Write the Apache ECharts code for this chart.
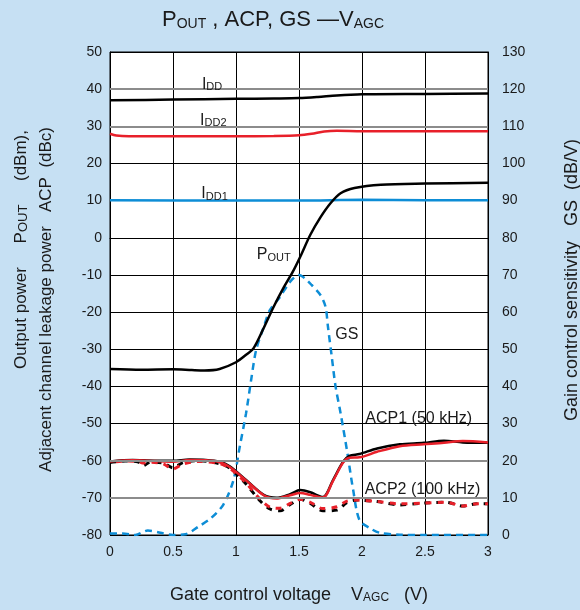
<!DOCTYPE html>
<html><head><meta charset="utf-8">
<script src="https://cdn.jsdelivr.net/npm/echarts@6/dist/echarts.min.js"></script>
<style>html,body{margin:0;padding:0;background:#c6e0f3;}#c{width:580px;height:610px;}</style>
</head><body><div id="c"></div>
<script>
// ---- axis ticks ----
const xTicks = [0, 0.5, 1, 1.5, 2, 2.5, 3];
const leftTicks = [-80, -70, -60, -50, -40, -30, -20, -10, 0, 10, 20, 30, 40, 50];
const rightTicks = [0, 10, 20, 30, 40, 50, 60, 70, 80, 90, 100, 110, 120, 130];
const grayGridLines = [40, 30, -60, -70];

// ---- IDD (left axis) ----
const iddX = [0, 0.5, 1.0, 1.3, 1.5, 1.65, 1.8, 2.0, 2.5, 3.0];
const iddY = [37.0, 37.2, 37.4, 37.5, 37.6, 37.9, 38.3, 38.6, 38.7, 38.8];
const idd2X = [0, 0.05, 0.15, 0.5, 1.0, 1.3, 1.5, 1.6, 1.7, 1.8, 2.0, 2.5, 3.0];
const idd2Y = [28.0, 27.5, 27.3, 27.3, 27.3, 27.4, 27.6, 28.0, 28.6, 28.8, 28.7, 28.7, 28.7];
const idd1X = [0, 1.0, 1.5, 2.0, 2.5, 3.0];
const idd1Y = [10.1, 10.0, 10.0, 10.2, 10.1, 10.1];

// ---- POUT (left axis) ----
const poutX = [0, 0.25, 0.5, 0.65, 0.75, 0.87, 1.0, 1.08, 1.14, 1.22, 1.3, 1.38, 1.45, 1.51, 1.59, 1.67, 1.75, 1.83, 1.94, 2.15, 2.5, 3.0];
const poutY = [-35.3, -35.5, -35.4, -35.6, -35.7, -35.3, -33.5, -31.5, -29.7, -24.3, -18.5, -13.3, -9.2, -5.1, 0.8, 5.5, 9.3, 12.0, 13.4, 14.3, 14.6, 14.8];

// ---- GS (right axis) ----
const gsX = [0, 0.1, 0.2, 0.3, 0.4, 0.5, 0.6, 0.7, 0.8, 0.9, 0.98, 1.03, 1.08, 1.12, 1.16, 1.22, 1.27, 1.35, 1.43, 1.5, 1.55, 1.6, 1.67, 1.71, 1.73, 1.76, 1.79, 1.83, 1.88, 1.93, 1.98, 2.06, 2.14, 2.3, 2.5, 3.0];
const gsY = [0.4, 0.4, 0, 1.2, 0.6, 0, 0.2, 2.2, 4.5, 8.2, 14.8, 23.8, 32.8, 41.7, 49.8, 56.0, 60.6, 64.1, 68.2, 70.0, 69.0, 67.3, 64.6, 61.5, 56.0, 48.0, 40.0, 32.8, 22.9, 12.1, 4.0, 1.9, 0.6, 0.1, 0, 0];

// ---- ACP1 (left axis) ----
const acp1X = [0, 0.18, 0.35, 0.5, 0.63, 0.76, 0.87, 0.95, 1.08, 1.22, 1.32, 1.43, 1.51, 1.59, 1.69, 1.77, 1.85, 1.9, 1.98, 2.12, 2.3, 2.49, 2.65, 2.8, 3.0];
const acp1BlackY = [-60.2, -59.8, -60.0, -60.0, -59.7, -59.8, -60.3, -61.5, -65.2, -69.2, -70.0, -69.0, -67.9, -68.5, -69.8, -65.2, -60.3, -58.7, -58.2, -56.7, -55.6, -55.2, -54.6, -55.1, -55.2];
const acp1RedY   = [-60.2, -59.9, -60.1, -60.3, -59.8, -59.9, -60.4, -61.7, -65.3, -69.3, -70.2, -69.3, -68.7, -69.2, -69.9, -65.4, -60.5, -59.2, -59.1, -57.6, -56.1, -55.6, -55.2, -54.7, -55.1];

// ---- ACP2 (left axis) ----
const acp2X = [0, 0.12, 0.22, 0.26, 0.32, 0.42, 0.5, 0.58, 0.7, 0.87, 0.95, 1.08, 1.19, 1.27, 1.35, 1.43, 1.51, 1.59, 1.69, 1.8, 1.88, 1.96, 2.12, 2.3, 2.49, 2.67, 2.8, 2.91, 3.0];
const acp2BlackY = [-60.5, -60.1, -60.3, -61.4, -60.4, -60.6, -61.9, -60.5, -60.0, -60.8, -62.0, -66.3, -70.8, -73.0, -73.5, -71.8, -70.4, -71.5, -73.5, -73.3, -71.3, -70.6, -71.0, -71.9, -71.4, -71.2, -72.2, -71.6, -71.6];
const acp2RedY   = [-60.5, -60.1, -60.2, -60.6, -60.4, -60.8, -62.2, -60.9, -60.2, -60.8, -62.0, -66.0, -70.3, -72.5, -72.8, -71.5, -70.4, -71.2, -72.9, -72.4, -70.9, -70.6, -71.0, -71.6, -71.4, -71.2, -72.2, -71.6, -71.6];

// ---- in-plot labels (data coordinates on left axis) ----
const curveLabels = [
  { text: 'I{sub|DD}', x: 0.81, y: 41.9 },
  { text: 'I{sub|DD2}', x: 0.82, y: 32.2 },
  { text: 'I{sub|DD1}', x: 0.83, y: 12.3 },
  { text: 'P{sub|OUT}', x: 1.30, y: -4.1 },
  { text: 'GS', x: 1.88, y: -25.6 },
  { text: 'ACP1 (50 kHz)', x: 2.45, y: -48.2 },
  { text: 'ACP2 (100 kHz)', x: 2.48, y: -67.3 }
];

const FONT = "'Liberation Sans', Arial, sans-serif";
const BLACK = '#000000', RED = '#e8202a', BLUE = '#0d8dd6';
const pairs = (xs, ys) => xs.map((x, i) => [x, ys[i]]);

const chart = echarts.init(document.getElementById('c'), null, { renderer: 'canvas' });

function line(name, xs, ys, color, opts) {
  opts = opts || {};
  return {
    name, type: 'line', data: pairs(xs, ys), yAxisIndex: opts.right ? 1 : 0,
    showSymbol: false, symbol: 'none', smooth: opts.smooth == null ? 0.3 : opts.smooth,
    z: opts.z || 3, silent: true,
    lineStyle: { color, width: opts.width || 2.5, type: opts.dash || 'solid', dashOffset: opts.offset || 0, cap: 'butt' }
  };
}

const option = {
  backgroundColor: '#c6e0f3',
  animation: false,
  grid: { left: 110, right: 92, top: 52, bottom: 75, show: true, backgroundColor: '#ffffff', borderColor: '#000', borderWidth: 1 },
  xAxis: {
    type: 'value', min: xTicks[0], max: xTicks[xTicks.length - 1], interval: xTicks[1] - xTicks[0],
    axisLine: { show: true, lineStyle: { color: '#000', width: 1 } },
    axisTick: { show: false },
    axisLabel: { color: '#1a1a1a', fontSize: 14, fontFamily: FONT, margin: 10 },
    splitLine: { show: true, lineStyle: { color: '#000', width: 1 } }
  },
  yAxis: [{
    type: 'value', min: leftTicks[0], max: leftTicks[leftTicks.length - 1], interval: leftTicks[1] - leftTicks[0],
    axisLine: { show: true, lineStyle: { color: '#000', width: 1 } },
    axisTick: { show: false },
    axisLabel: { color: '#1a1a1a', fontSize: 14, fontFamily: FONT, margin: 8 },
    splitLine: { show: true, lineStyle: { color: '#000', width: 1 } }
  }, {
    type: 'value', position: 'right', min: rightTicks[0], max: rightTicks[rightTicks.length - 1], interval: rightTicks[1] - rightTicks[0],
    axisLine: { show: true, lineStyle: { color: '#000', width: 1 } },
    axisTick: { show: false },
    axisLabel: { color: '#1a1a1a', fontSize: 14, fontFamily: FONT, margin: 14 },
    splitLine: { show: false }
  }],
  series: [
    {
      name: 'grid-gray', type: 'line', data: [], z: 1, silent: true,
      markLine: {
        silent: true, symbol: ['none', 'none'], label: { show: false },
        lineStyle: { color: '#8c8c8c', width: 2, type: 'solid' },
        data: grayGridLines.map(v => ({ yAxis: v }))
      }
    },
    line('IDD', iddX, iddY, BLACK),
    line('IDD2', idd2X, idd2Y, RED),
    line('IDD1', idd1X, idd1Y, BLUE),
    line('GS', gsX, gsY, BLUE, { right: true, dash: [7, 5], width: 2.5 }),
    line('POUT', poutX, poutY, BLACK),
    line('ACP2 black', acp2X, acp2BlackY, BLACK, { dash: [6, 6], width: 3 }),
    line('ACP2 red', acp2X, acp2RedY, RED, { dash: [6, 6], offset: 6, width: 3 }),
    line('ACP1 black', acp1X, acp1BlackY, BLACK),
    line('ACP1 red', acp1X, acp1RedY, RED)
  ]
};
chart.setOption(option);

function mkRich(main, sub, mainLH, subLH) {
  return {
    a: { fontSize: main, fontFamily: FONT, fill: '#1a1a1a', lineHeight: mainLH, verticalAlign: 'bottom' },
    sub: { fontSize: sub, fontFamily: FONT, fill: '#1a1a1a', lineHeight: subLH, verticalAlign: 'bottom' }
  };
}
function richText(t) {
  return t.split(/(\{sub\|[^}]*\})/).filter(s => s).map(s => s.startsWith('{sub|') ? s : '{a|' + s + '}').join('');
}

const labelRich = mkRich(16, 11, 20, 13);
const graphics = [];
curveLabels.forEach(l => {
  const p = chart.convertToPixel({ xAxisIndex: 0, yAxisIndex: 0 }, [l.x, l.y]);
  graphics.push({
    type: 'text', x: p[0], y: p[1], silent: true, z: 10,
    style: { text: richText(l.text), rich: labelRich, align: 'center', verticalAlign: 'middle' }
  });
});

const bigRich = mkRich(22, 14, 26, 12);
const axRich = mkRich(18, 12, 22, 15);
const leftRich = mkRich(17, 13, 21, 15);
graphics.push(
  { type: 'text', x: 273, y: 18, silent: true,
    style: { text: richText('P{sub|OUT} , ACP, GS \u2014V{sub|AGC}'), rich: bigRich, align: 'center', verticalAlign: 'middle' } },
  { type: 'text', x: 299, y: 593, silent: true,
    style: { text: richText('Gate control voltage    V{sub|AGC}   (V)'), rich: axRich, align: 'center', verticalAlign: 'middle' } },
  { type: 'text', x: 19, y: 130, rotation: Math.PI / 2, silent: true,
    style: { text: richText('Output power     P{sub|OUT}     (dBm),'), rich: leftRich, align: 'right', verticalAlign: 'middle' } },
  { type: 'text', x: 44, y: 127, rotation: Math.PI / 2, silent: true,
    style: { text: richText('Adjacent channel leakage power   ACP  (dBc)'), rich: leftRich, align: 'right', verticalAlign: 'middle' } },
  { type: 'text', x: 570, y: 280, rotation: Math.PI / 2, silent: true,
    style: { text: richText('Gain control sensitivity   GS  (dB/V)'), rich: axRich, align: 'center', verticalAlign: 'middle' } }
);
chart.setOption({ graphic: graphics });
</script></body></html>
